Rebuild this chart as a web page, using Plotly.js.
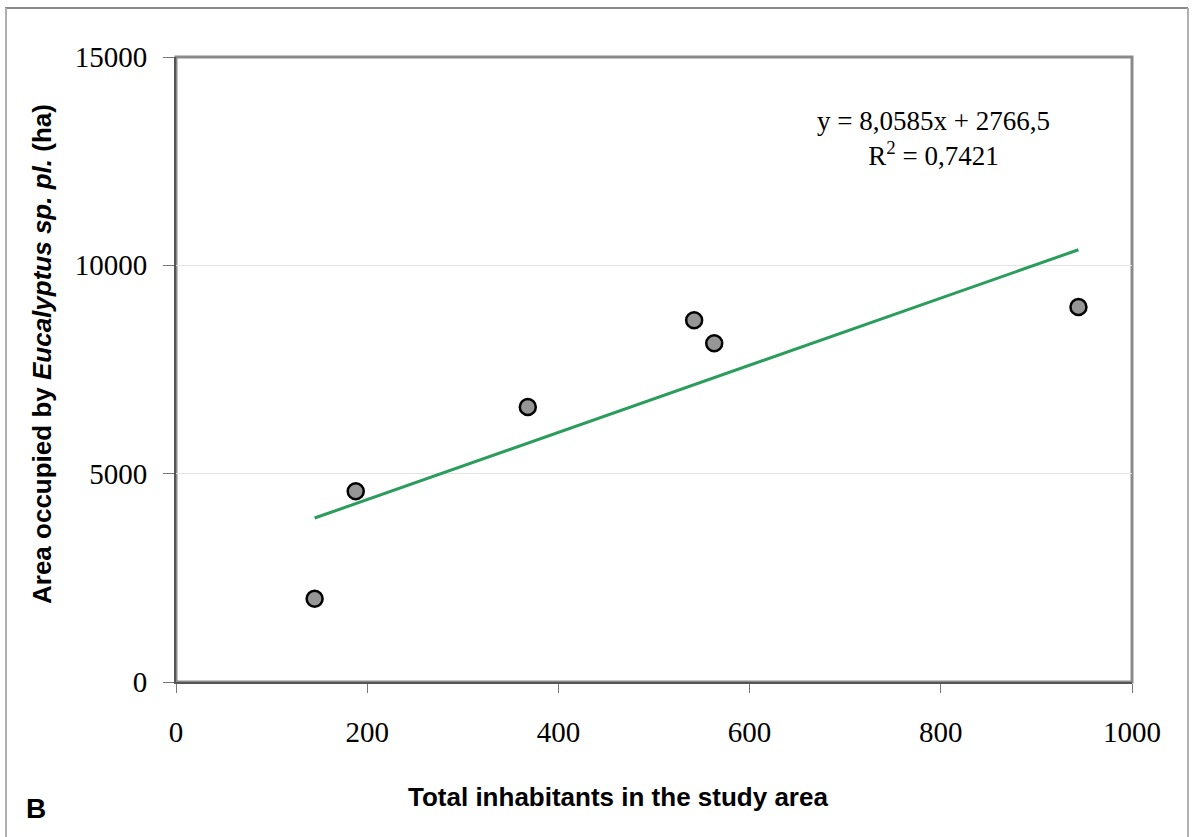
<!DOCTYPE html>
<html>
<head>
<meta charset="utf-8">
<script src="https://cdn.plot.ly/plotly-3.0.1.min.js"></script>
<style>html,body{margin:0;padding:0;background:#fff;}#chart{width:1198px;height:837px;}</style>
</head>
<body>
<div id="chart"></div>
<script>
var inhabitants = [145, 188, 368, 542, 563, 944];
var eucalyptusArea = [2000, 4580, 6600, 8680, 8130, 9000];
// Linear trend line endpoints (y = 8,0585x + 2766,5)
var trendX = [145, 944];
var trendY = [3935, 10374];
var xTicks = [0, 200, 400, 600, 800, 1000];
var yTicks = [0, 5000, 10000, 15000];
var equationText = "y = 8,0585x + 2766,5<br>R<sup>2</sup> = 0,7421";
var xTitle = "Total inhabitants in the study area";
var yTitle = "Area occupied by <i>Eucalyptus sp. pl.</i> (ha)";
var panelLabel = "B";

var serif = "Liberation Serif, Times New Roman, serif";
var sans = "Liberation Sans, Arial, sans-serif";

var W = 956, H = 625; // plot area size in px
function px(dx) { return dx / W; }
function py(dy) { return dy / H; }

var traces = [
  {
    x: trendX, y: trendY, type: "scatter", mode: "lines",
    line: {color: "#2a9d5c", width: 3}, hoverinfo: "skip", showlegend: false
  },
  {
    x: inhabitants, y: eucalyptusArea, type: "scatter", mode: "markers",
    marker: {size: 16, color: "#969696", line: {color: "#000", width: 2.5}},
    showlegend: false
  }
];

var layout = {
  width: 1198, height: 837,
  margin: {l: 176, r: 66, t: 57, b: 155},
  paper_bgcolor: "#fff", plot_bgcolor: "#fff",
  showlegend: false,
  xaxis: {
    range: [0, 1000], tickvals: xTicks, ticktext: xTicks.map(String),
    showgrid: false, zeroline: false,
    showline: true, linecolor: "#555", linewidth: 2,
    ticks: "outside", ticklen: 9, tickcolor: "#777", tickwidth: 1,
    ticklabelstandoff: 14,
    tickfont: {family: serif, size: 29, color: "#000"}
  },
  yaxis: {
    range: [0, 15000], tickvals: yTicks, ticktext: yTicks.map(String),
    showgrid: true, gridcolor: "#e3e3e3", gridwidth: 1,
    zeroline: false,
    showline: true, linecolor: "#555", linewidth: 2,
    ticks: "outside", ticklen: 11, tickcolor: "#777", tickwidth: 1,
    ticklabelstandoff: 10,
    tickfont: {family: serif, size: 29, color: "#000"}
  },
  shapes: [
    {type: "rect", xref: "paper", yref: "paper", x0: 0, x1: 1, y0: 0, y1: 1,
     line: {color: "#8a8a8a", width: 3}, layer: "below"},
    {type: "line", xref: "paper", yref: "paper", x0: px(-171), x1: px(1012), y0: py(674), y1: py(674),
     line: {color: "#8a8a8a", width: 2}},
    {type: "line", xref: "paper", yref: "paper", x0: px(-170), x1: px(-170), y0: py(674), y1: py(-160),
     line: {color: "#b0b0b0", width: 2}},
    {type: "line", xref: "paper", yref: "paper", x0: px(1012), x1: px(1012), y0: py(674), y1: py(-160),
     line: {color: "#b0b0b0", width: 2}}
  ],
  annotations: [
    {text: equationText, xref: "x", yref: "paper", x: 792, y: 1 - py(47), xanchor: "center", yanchor: "top",
     showarrow: false, align: "center", font: {family: serif, size: 27, color: "#000"}},
    {text: "<b>" + xTitle + "</b>", xref: "paper", yref: "paper", x: px(618 - 176), y: -py(797 - 682),
     xanchor: "center", yanchor: "middle", showarrow: false, font: {family: sans, size: 26, color: "#000"}},
    {text: "<b>" + yTitle + "</b>", xref: "paper", yref: "paper", x: -px(176 - 42), y: py(682 - 354),
     xanchor: "center", yanchor: "middle", textangle: -90, showarrow: false, font: {family: sans, size: 26, color: "#000"}},
    {text: "<b>" + panelLabel + "</b>", xref: "paper", yref: "paper", x: -px(176 - 24), y: -py(808 - 682),
     xanchor: "left", yanchor: "middle", showarrow: false, font: {family: sans, size: 28, color: "#000"}}
  ]
};

Plotly.newPlot("chart", traces, layout, {displayModeBar: false, staticPlot: true});
</script>
</body>
</html>
